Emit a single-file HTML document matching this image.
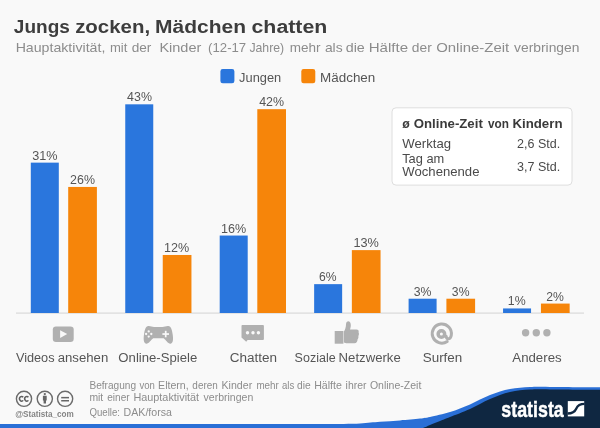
<!DOCTYPE html>
<html lang="de">
<head>
<meta charset="utf-8">
<title>Jungs zocken, Mädchen chatten</title>
<style>
html,body{margin:0;padding:0;}
body{width:600px;height:428px;overflow:hidden;background:#f9f9f9;font-family:"Liberation Sans",sans-serif;}
svg{display:block;position:absolute;left:0;top:0;font-family:"Liberation Sans",sans-serif;}
text{white-space:pre;}
</style>
</head>
<body>
<svg width="600" height="428" viewBox="0 0 600 428" style="filter:blur(0.5px)">
<rect x="0" y="0" width="600" height="428" fill="#f9f9f9"/>
<rect x="16" y="312.5" width="568" height="1.2" fill="#dadada"/>
<!-- bars -->
<rect x="30.80" y="162.64" width="28.00" height="150.36" fill="#2a76dd"/>
<rect x="68.20" y="186.94" width="28.70" height="126.06" fill="#f6850a"/>
<rect x="125.25" y="104.32" width="28.00" height="208.68" fill="#2a76dd"/>
<rect x="162.75" y="254.98" width="28.70" height="58.02" fill="#f6850a"/>
<rect x="219.70" y="235.54" width="28.00" height="77.46" fill="#2a76dd"/>
<rect x="257.30" y="109.18" width="28.70" height="203.82" fill="#f6850a"/>
<rect x="314.15" y="284.14" width="28.00" height="28.86" fill="#2a76dd"/>
<rect x="351.85" y="250.12" width="28.70" height="62.88" fill="#f6850a"/>
<rect x="408.60" y="298.72" width="28.00" height="14.28" fill="#2a76dd"/>
<rect x="446.40" y="298.72" width="28.70" height="14.28" fill="#f6850a"/>
<rect x="503.05" y="308.44" width="28.00" height="4.56" fill="#2a76dd"/>
<rect x="540.95" y="303.58" width="28.70" height="9.42" fill="#f6850a"/>
<!-- legend swatches -->
<rect x="220.4" y="69.1" width="14" height="14.1" rx="2.3" fill="#2a76dd"/>
<rect x="301.3" y="69.1" width="14" height="14.1" rx="2.3" fill="#f6850a"/>
<!-- info box -->
<rect x="392" y="107.8" width="180" height="77.3" rx="4" fill="#ffffff" stroke="#dedede" stroke-width="1"/>
<!-- video -->
<rect x="52.8" y="326.4" width="20.9" height="15.6" rx="3.2" fill="#b0b0b0"/>
<path d="M60.1 330.2 L67.2 334.1 L60.1 338 Z" fill="#f9f9f9"/>
<!-- gamepad -->
<path d="M148.3 326 C150.5 325.8 152 326.9 154 326.9 L162.5 326.9 C164.5 326.9 166 325.8 168.4 326 C171 326.3 172 330 172.6 334 C173.3 338 173.5 343.2 170.6 343.7 C168 344 166 340 163.6 338.3 L153.2 338.3 C150.8 340 148.8 344 146.2 343.7 C143.3 343.2 143.4 338 144.1 334 C144.7 330 145.7 326.3 148.3 326 Z" fill="#b0b0b0"/>
<g fill="#f9f9f9">
  <circle cx="148.7" cy="331.4" r="1.15"/><circle cx="148.7" cy="336.6" r="1.15"/>
  <circle cx="146.1" cy="334" r="1.15"/><circle cx="151.3" cy="334" r="1.15"/>
  <rect x="162.4" y="333.2" width="6.6" height="1.7"/><rect x="164.85" y="330.8" width="1.7" height="6.5"/>
</g>
<!-- chat -->
<path d="M242.3 325 H263 a0.9 0.9 0 0 1 0.9 0.9 V339 a0.9 0.9 0 0 1 -0.9 0.9 H247.6 L246.2 341.8 L241.5 337.6 V325.9 a0.9 0.9 0 0 1 0.8 -0.9 Z" fill="#b0b0b0"/>
<g fill="#f9f9f9"><circle cx="247.5" cy="332.7" r="1.7"/><circle cx="253" cy="332.7" r="1.7"/><circle cx="258.4" cy="332.7" r="1.7"/></g>
<!-- thumbs up -->
<rect x="334.7" y="331" width="8.7" height="12.7" fill="#b0b0b0"/>
<path d="M343.9 331.5 C345 330 346 327 346 324.5 C346 322 347.3 321.1 348.5 321.2 C350.2 321.4 351 323.5 350.8 326 C350.6 327.5 350.3 328.5 350 329.5 L356.5 329.5 C358.3 329.5 359 330.8 358.6 332.5 C359.2 333.5 359 335 358.3 336 C358.7 337.2 358.3 338.6 357.5 339.4 C357.7 341 356.5 343.3 354.5 343.3 L347 343.3 C345.8 343.3 345 342.8 343.9 342.5 Z" fill="#b0b0b0"/>
<!-- at sign -->
<g fill="none" stroke="#b0b0b0" stroke-linecap="round">
  <path d="M447.2 341.5 A9.6 9.6 0 1 1 451.3 335 C451 337.6 449.6 339 448.1 338.8 C446.9 338.6 446.3 337.6 446.1 336.2" stroke-width="3"/>
  <circle cx="441.4" cy="334" r="3.25" stroke-width="3.5"/>
</g>
<!-- other dots -->
<g fill="#b1b1b1"><circle cx="525.6" cy="332.8" r="3.7"/><circle cx="536.3" cy="332.8" r="3.7"/><circle cx="546.9" cy="332.8" r="3.7"/></g>
<!-- CC icons -->
<g fill="none" stroke="#6b6b6b" stroke-width="1.4">
  <circle cx="24" cy="398.8" r="7.6"/><circle cx="44.8" cy="398.8" r="7.6"/><circle cx="65.1" cy="398.8" r="7.6"/>
</g>
<g fill="none" stroke="#5f5f5f" stroke-width="1.5">
  <path d="M23.2 397.2 A2.1 2.4 0 1 0 23.2 400.4"/>
  <path d="M28.4 397.2 A2.1 2.4 0 1 0 28.4 400.4"/>
</g>
<g fill="#666666">
  <circle cx="44.8" cy="394.1" r="1.15"/>
  <path d="M42.9 395.8 H46.7 V400.4 H46 V403.6 H43.6 V400.4 H42.9 Z"/>
  <rect x="61.2" y="396.9" width="7.8" height="1.5"/><rect x="61.2" y="400" width="7.8" height="1.5"/>
</g>
<!-- bottom strip + statista swoosh -->
<path d="M0 424.1 L330.0 424.1 C335.0 424.0 351.7 423.8 360.0 423.4 C368.3 423.0 373.3 422.3 380.0 421.8 C386.7 421.3 393.3 420.9 400.0 420.4 C406.7 419.9 415.0 419.2 420.0 418.6 C425.0 418.0 425.0 418.1 430.0 417.0 C435.0 415.9 443.3 414.1 450.0 412.0 C456.7 409.9 463.3 407.2 470.0 404.4 C476.7 401.6 483.3 397.6 490.0 395.0 C496.7 392.4 503.3 390.3 510.0 389.0 C516.7 387.7 523.3 387.4 530.0 387.0 C536.7 386.6 538.3 386.8 550.0 386.9 C561.7 386.9 591.7 387.2 600.0 387.3 L600 428 L0 428 Z" fill="#2a6fd6"/>
<path d="M415.0 430.0 C416.3 429.7 420.5 428.8 423.0 428.0 C425.5 427.2 427.2 426.2 430.0 425.0 C432.8 423.8 436.7 422.3 440.0 421.0 C443.3 419.7 445.0 419.0 450.0 417.0 C455.0 415.0 463.3 412.0 470.0 409.0 C476.7 406.0 483.3 401.8 490.0 399.0 C496.7 396.2 503.3 393.6 510.0 392.0 C516.7 390.4 523.3 390.0 530.0 389.6 C536.7 389.2 538.3 389.4 550.0 389.4 C561.7 389.4 591.7 389.7 600.0 389.8 L600 430 Z" fill="#0f2741"/>
<!-- statista logo mark -->
<rect x="567.8" y="401.1" width="16.4" height="15.3" fill="#ffffff"/>
<path d="M567.6 413.5 C573.5 413.5 575.2 411 576.2 408.7 C577.2 406.4 578.9 403.9 584.6 403.9" fill="none" stroke="#0f2741" stroke-width="2.3"/>
<!-- text -->
<text y="33.00" font-size="18.7" font-weight="700" fill="#3d3d3d"><tspan x="13.86" textLength="56.03" lengthAdjust="spacingAndGlyphs">Jungs</tspan> <tspan x="75.17" textLength="74.95" lengthAdjust="spacingAndGlyphs">zocken,</tspan> <tspan x="155.10" textLength="90.94" lengthAdjust="spacingAndGlyphs">Mädchen</tspan> <tspan x="251.53" textLength="75.78" lengthAdjust="spacingAndGlyphs">chatten</tspan></text>
<text y="52.00" font-size="13" font-weight="400" fill="#8c8c8c"><tspan x="15.65" textLength="89.68" lengthAdjust="spacingAndGlyphs">Hauptaktivität,</tspan> <tspan x="109.91" textLength="17.42" lengthAdjust="spacingAndGlyphs">mit</tspan> <tspan x="131.70" textLength="19.67" lengthAdjust="spacingAndGlyphs">der</tspan> <tspan x="159.40" textLength="41.96" lengthAdjust="spacingAndGlyphs">Kinder</tspan> <tspan x="208.13" textLength="38.04" lengthAdjust="spacingAndGlyphs">(12-17</tspan> <tspan x="249.40" textLength="34.74" lengthAdjust="spacingAndGlyphs">Jahre)</tspan> <tspan x="289.83" textLength="30.78" lengthAdjust="spacingAndGlyphs">mehr</tspan> <tspan x="324.91" textLength="17.74" lengthAdjust="spacingAndGlyphs">als</tspan> <tspan x="345.72" textLength="19.08" lengthAdjust="spacingAndGlyphs">die</tspan> <tspan x="368.72" textLength="39.40" lengthAdjust="spacingAndGlyphs">Hälfte</tspan> <tspan x="411.83" textLength="19.89" lengthAdjust="spacingAndGlyphs">der</tspan> <tspan x="436.17" textLength="73.03" lengthAdjust="spacingAndGlyphs">Online-Zeit</tspan> <tspan x="514.02" textLength="65.43" lengthAdjust="spacingAndGlyphs">verbringen</tspan></text>
<text y="82.00" font-size="13.2" font-weight="400" fill="#555555"><tspan x="239.12" textLength="42.07" lengthAdjust="spacingAndGlyphs">Jungen</tspan></text>
<text y="82.00" font-size="13.2" font-weight="400" fill="#555555"><tspan x="320.07" textLength="55.23" lengthAdjust="spacingAndGlyphs">Mädchen</tspan></text>
<text y="128.00" font-size="12.6" font-weight="700" fill="#3a3a3a"><tspan x="402.14" textLength="7.54" lengthAdjust="spacingAndGlyphs">ø</tspan> <tspan x="413.73" textLength="69.11" lengthAdjust="spacingAndGlyphs">Online-Zeit</tspan> <tspan x="487.95" textLength="20.96" lengthAdjust="spacingAndGlyphs">von</tspan> <tspan x="512.41" textLength="50.09" lengthAdjust="spacingAndGlyphs">Kindern</tspan></text>
<text y="148.00" font-size="12.8" font-weight="400" fill="#4a4a4a"><tspan x="402.36" textLength="48.74" lengthAdjust="spacingAndGlyphs">Werktag</tspan></text>
<text y="148.00" font-size="12.8" font-weight="400" fill="#4a4a4a"><tspan x="517.10" textLength="43.16" lengthAdjust="spacingAndGlyphs">2,6 Std.</tspan></text>
<text y="163.00" font-size="12.8" font-weight="400" fill="#4a4a4a"><tspan x="402.16" textLength="42.09" lengthAdjust="spacingAndGlyphs">Tag am</tspan></text>
<text y="176.00" font-size="12.8" font-weight="400" fill="#4a4a4a"><tspan x="402.36" textLength="77.07" lengthAdjust="spacingAndGlyphs">Wochenende</tspan></text>
<text y="171.00" font-size="12.8" font-weight="400" fill="#4a4a4a"><tspan x="517.03" textLength="43.21" lengthAdjust="spacingAndGlyphs">3,7 Std.</tspan></text>
<text y="362.00" font-size="12.5" font-weight="400" fill="#555555"><tspan x="15.91" textLength="38.63" lengthAdjust="spacingAndGlyphs">Videos</tspan> <tspan x="57.66" textLength="50.59" lengthAdjust="spacingAndGlyphs">ansehen</tspan></text>
<text y="362.00" font-size="12.5" font-weight="400" fill="#555555"><tspan x="118.35" textLength="78.94" lengthAdjust="spacingAndGlyphs">Online-Spiele</tspan></text>
<text y="362.00" font-size="12.5" font-weight="400" fill="#555555"><tspan x="229.77" textLength="47.30" lengthAdjust="spacingAndGlyphs">Chatten</tspan></text>
<text y="362.00" font-size="12.5" font-weight="400" fill="#555555"><tspan x="294.62" textLength="41.06" lengthAdjust="spacingAndGlyphs">Soziale</tspan> <tspan x="338.60" textLength="62.16" lengthAdjust="spacingAndGlyphs">Netzwerke</tspan></text>
<text y="362.00" font-size="12.5" font-weight="400" fill="#555555"><tspan x="422.73" textLength="39.60" lengthAdjust="spacingAndGlyphs">Surfen</tspan></text>
<text y="362.00" font-size="12.5" font-weight="400" fill="#555555"><tspan x="512.30" textLength="49.32" lengthAdjust="spacingAndGlyphs">Anderes</tspan></text>
<text y="389.00" font-size="10.1" font-weight="400" fill="#8c8c8c"><tspan x="89.41" textLength="46.61" lengthAdjust="spacingAndGlyphs">Befragung</tspan> <tspan x="139.40" textLength="15.44" lengthAdjust="spacingAndGlyphs">von</tspan> <tspan x="158.08" textLength="30.60" lengthAdjust="spacingAndGlyphs">Eltern,</tspan> <tspan x="192.36" textLength="25.39" lengthAdjust="spacingAndGlyphs">deren</tspan> <tspan x="221.52" textLength="30.67" lengthAdjust="spacingAndGlyphs">Kinder</tspan> <tspan x="256.38" textLength="22.44" lengthAdjust="spacingAndGlyphs">mehr</tspan> <tspan x="282.01" textLength="12.27" lengthAdjust="spacingAndGlyphs">als</tspan> <tspan x="297.03" textLength="13.67" lengthAdjust="spacingAndGlyphs">die</tspan> <tspan x="314.17" textLength="27.69" lengthAdjust="spacingAndGlyphs">Hälfte</tspan> <tspan x="345.64" textLength="20.86" lengthAdjust="spacingAndGlyphs">ihrer</tspan> <tspan x="369.90" textLength="51.47" lengthAdjust="spacingAndGlyphs">Online-Zeit</tspan></text>
<text y="401.00" font-size="10.1" font-weight="400" fill="#8c8c8c"><tspan x="89.41" textLength="13.85" lengthAdjust="spacingAndGlyphs">mit</tspan> <tspan x="107.22" textLength="22.36" lengthAdjust="spacingAndGlyphs">einer</tspan> <tspan x="133.40" textLength="65.75" lengthAdjust="spacingAndGlyphs">Hauptaktivität</tspan> <tspan x="203.58" textLength="49.66" lengthAdjust="spacingAndGlyphs">verbringen</tspan></text>
<text y="416.00" font-size="10.1" font-weight="400" fill="#8c8c8c"><tspan x="89.43" textLength="30.55" lengthAdjust="spacingAndGlyphs">Quelle:</tspan> <tspan x="123.62" textLength="48.31" lengthAdjust="spacingAndGlyphs">DAK/forsa</tspan></text>
<text y="417.00" font-size="8.2" font-weight="700" fill="#858585"><tspan x="15.15" textLength="58.72" lengthAdjust="spacingAndGlyphs">@Statista_com</tspan></text>
<text y="416.50" font-size="21.5" font-weight="700" fill="#ffffff" stroke="#ffffff" stroke-width="0.45"><tspan x="501.36" textLength="62.37" lengthAdjust="spacingAndGlyphs">statista</tspan></text>
<text y="159.64" font-size="12.3" font-weight="400" fill="#555555"><tspan x="32.20" textLength="25.33" lengthAdjust="spacingAndGlyphs">31%</tspan></text>
<text y="183.94" font-size="12.3" font-weight="400" fill="#555555"><tspan x="70.10" textLength="24.84" lengthAdjust="spacingAndGlyphs">26%</tspan></text>
<text y="101.32" font-size="12.3" font-weight="400" fill="#555555"><tspan x="127.14" textLength="24.83" lengthAdjust="spacingAndGlyphs">43%</tspan></text>
<text y="251.98" font-size="12.3" font-weight="400" fill="#555555"><tspan x="164.14" textLength="25.20" lengthAdjust="spacingAndGlyphs">12%</tspan></text>
<text y="232.54" font-size="12.3" font-weight="400" fill="#555555"><tspan x="220.94" textLength="25.18" lengthAdjust="spacingAndGlyphs">16%</tspan></text>
<text y="106.18" font-size="12.3" font-weight="400" fill="#555555"><tspan x="259.21" textLength="24.87" lengthAdjust="spacingAndGlyphs">42%</tspan></text>
<text y="281.14" font-size="12.3" font-weight="400" fill="#555555"><tspan x="319.06" textLength="17.53" lengthAdjust="spacingAndGlyphs">6%</tspan></text>
<text y="247.12" font-size="12.3" font-weight="400" fill="#555555"><tspan x="353.43" textLength="25.45" lengthAdjust="spacingAndGlyphs">13%</tspan></text>
<text y="295.72" font-size="12.3" font-weight="400" fill="#555555"><tspan x="413.68" textLength="17.75" lengthAdjust="spacingAndGlyphs">3%</tspan></text>
<text y="295.72" font-size="12.3" font-weight="400" fill="#555555"><tspan x="451.85" textLength="17.65" lengthAdjust="spacingAndGlyphs">3%</tspan></text>
<text y="305.44" font-size="12.3" font-weight="400" fill="#555555"><tspan x="507.82" textLength="17.85" lengthAdjust="spacingAndGlyphs">1%</tspan></text>
<text y="300.58" font-size="12.3" font-weight="400" fill="#555555"><tspan x="546.31" textLength="17.65" lengthAdjust="spacingAndGlyphs">2%</tspan></text>
</svg>
</body>
</html>
